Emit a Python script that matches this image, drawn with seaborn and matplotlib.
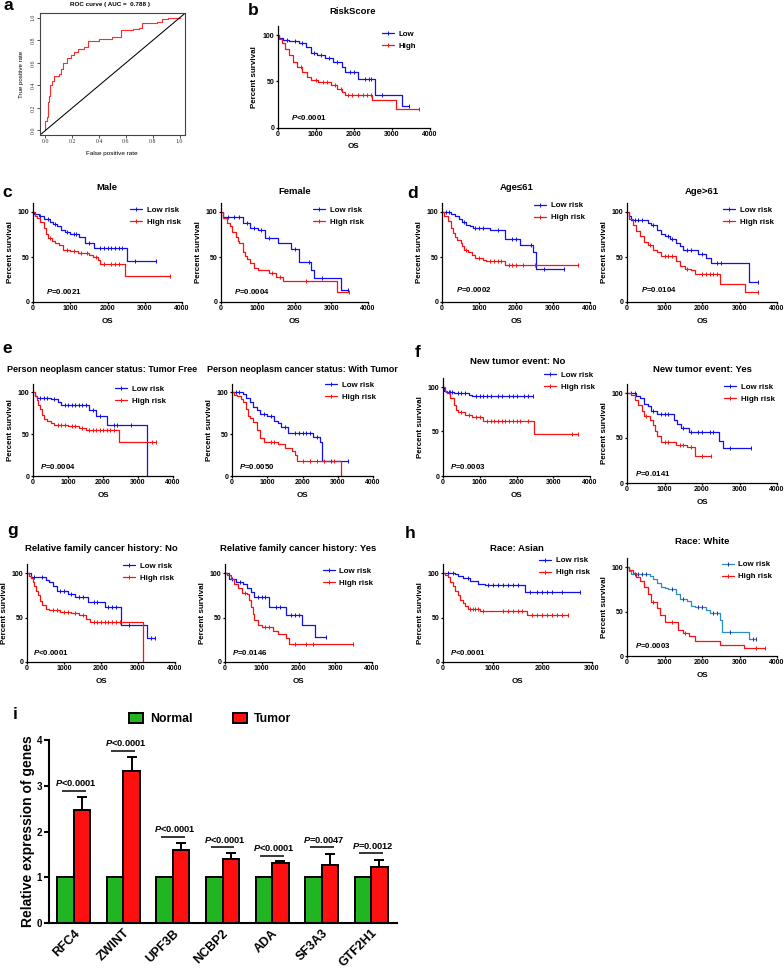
import numpy as np
import pandas as pd
import matplotlib
matplotlib.use("Agg")
import matplotlib.pyplot as plt
import matplotlib.transforms as mtrans
from matplotlib.lines import Line2D
from matplotlib.patches import Patch
import seaborn as sns

# ------------------------------------------------------------------ data
roc_fpr = [0, 0, 0.012, 0.017, 0.025, 0.037, 0.05, 0.067, 0.10, 0.117, 0.135, 0.16, 0.19,
           0.215, 0.24, 0.29, 0.32, 0.40, 0.50, 0.56, 0.565, 0.65, 0.70, 0.72, 0.83, 0.87, 0.91, 1.0]
roc_tpr = [0, 0.08, 0.12, 0.25, 0.31, 0.40, 0.44, 0.48, 0.50, 0.55, 0.60, 0.64, 0.67,
           0.70, 0.72, 0.74, 0.79, 0.81, 0.83, 0.84, 0.89, 0.90, 0.91, 0.95, 0.96, 0.985, 1.0, 1.0]
roc_auc = "0.788"

# b  RiskScore
risk_low_t = [0, 40, 150, 300, 550, 750, 880, 1020, 1240, 1460, 1680, 1770, 2120, 2550, 3270]
risk_low_s = [100, 97, 95, 93.5, 91, 87, 81, 78, 75, 71, 66, 60, 53, 35, 23]
risk_low_end = 3450
risk_low_cens = [250, 450, 650, 950, 1150, 1350, 1550, 1900, 2000, 2300, 2400, 2450, 2750, 3450]
risk_high_t = [0, 30, 100, 200, 300, 400, 500, 630, 760, 880, 1050, 1400, 1550, 1700, 1780, 2480, 3120]
risk_high_s = [100, 96, 91, 85, 78, 71, 66, 60, 55, 51, 49.5, 46, 42, 38, 35.5, 30, 20]
risk_high_end = 3700
risk_high_cens = [600, 1000, 1200, 1300, 1500, 1650, 1850, 1950, 2100, 2250, 2350, 2450, 3700]

# c  Male / Female
male_low_t = [0, 30, 150, 300, 450, 550, 650, 750, 850, 1000, 1240, 1400, 1650, 2530]
male_low_s = [100, 98, 95, 92, 89, 87, 84, 80, 78, 76, 72, 66, 60.5, 45.5]
male_low_end = 3300
male_low_cens = [200, 400, 600, 900, 1100, 1150, 1500, 1800, 1900, 2000, 2100, 2200, 2300, 2400, 2750, 3300]
male_high_t = [0, 50, 100, 200, 300, 350, 400, 500, 600, 700, 800, 1000, 1200, 1500, 1600, 1750, 1800, 2480]
male_high_s = [100, 96, 93, 89, 82, 76, 71, 68, 65, 63, 58, 57, 54, 52, 50, 47, 42.5, 28.5]
male_high_end = 3680
male_high_cens = [450, 900, 1100, 1300, 1450, 1700, 1900, 2100, 2200, 2300, 3680]

female_low_t = [0, 50, 600, 800, 1000, 1200, 1550, 1900, 2120, 2450, 2530, 3270]
female_low_s = [100, 94, 88, 82, 80, 71, 65, 59, 44, 35, 27, 13]
female_low_end = 3450
female_low_cens = [200, 350, 500, 700, 900, 1100, 1300, 2000, 2400, 2750, 3450]
female_high_t = [0, 50, 150, 250, 300, 400, 450, 500, 600, 650, 700, 800, 900, 1000, 1300, 1500, 1700, 3150]
female_high_s = [100, 93, 88, 84, 78, 72, 68, 65, 55, 51, 48, 43, 38, 35, 32, 28, 23, 11]
female_high_end = 3480
female_high_cens = [1400, 1600, 2300, 3480]

# d  Age<=61 / Age>61
young_low_t = [0, 250, 350, 450, 550, 650, 750, 850, 1300, 1700, 2100, 2450, 2530]
young_low_s = [100, 98, 95, 92, 89, 86, 84, 82, 80, 70, 63, 55, 37]
young_low_end = 3300
young_low_cens = [100, 200, 600, 900, 1000, 1100, 1500, 1900, 2000, 2400, 2750, 3300]
young_high_t = [0, 50, 150, 250, 300, 350, 400, 500, 550, 600, 700, 800, 900, 1100, 1200, 1700]
young_high_s = [100, 95, 90, 82, 77, 72, 69, 66, 62, 58, 55, 52, 49, 47, 45, 41.5]
young_high_end = 3680
young_high_cens = [650, 1000, 1300, 1400, 1500, 1600, 1800, 1900, 2000, 2200, 2500, 3680]

old_low_t = [0, 50, 100, 550, 650, 800, 900, 1000, 1150, 1300, 1400, 1500, 1900, 2100, 2250, 3250]
old_low_s = [100, 95, 91, 88, 85, 80, 76, 73, 70, 65, 62, 58, 53, 48.5, 43, 22]
old_low_end = 3480
old_low_cens = [200, 300, 400, 700, 1100, 1200, 1600, 1700, 2000, 2400, 2500, 3480]
old_high_t = [0, 50, 150, 250, 350, 450, 550, 700, 800, 900, 1300, 1400, 1550, 1700, 1800, 2480, 3150]
old_high_s = [100, 92, 85, 79, 73, 67, 63, 58, 55, 51, 46, 40, 37, 35, 31, 20, 11]
old_high_end = 3480
old_high_cens = [600, 1000, 1100, 1200, 1600, 2000, 2100, 2200, 2300, 2400, 3480]

# e  Tumor free / With tumor
free_low_t = [0, 50, 100, 500, 700, 800, 1600, 1800, 2100, 3250]
free_low_s = [100, 95, 93, 92, 88, 84, 78, 71, 60.5, 0]
free_low_end = 3250
free_low_cens = [200, 300, 400, 600, 900, 1000, 1100, 1200, 1300, 1400, 1500, 1700, 1900, 2300, 2400, 2800]
free_high_t = [0, 50, 100, 150, 200, 250, 300, 400, 500, 600, 1000, 1300, 1500, 2450]
free_high_s = [100, 95, 90, 85, 80, 73, 68, 65, 63, 61, 59, 57, 55, 41]
free_high_end = 3500
free_high_cens = [700, 800, 900, 1100, 1200, 1400, 1600, 1700, 1800, 1900, 2000, 2100, 2200, 2300, 3400, 3500]

withtum_low_t = [0, 300, 400, 500, 600, 700, 800, 1000, 1200, 1300, 1400, 1600, 2300, 2500, 2550]
withtum_low_s = [100, 98, 93, 88, 82, 78, 74, 71, 66, 63, 58, 51, 47, 40, 18]
withtum_low_end = 3300
withtum_low_cens = [100, 200, 900, 1100, 1500, 1800, 1900, 2000, 2100, 2200, 2400, 2800, 3300]
withtum_high_t = [0, 50, 150, 250, 300, 400, 450, 500, 600, 700, 800, 900, 1300, 1500, 1700, 1800, 1850, 3100]
withtum_high_s = [100, 97, 95, 92, 88, 80, 72, 69, 64, 55, 45, 40, 38, 33, 30, 25, 18, 0]
withtum_high_end = 3100
withtum_high_cens = [1100, 1200, 2000, 2200, 2400, 2600, 2900]

# f  New tumor event
ntno_low_t = [0, 30, 80, 300, 700, 800]
ntno_low_s = [100, 96, 94, 93, 91, 90]
ntno_low_end = 2450
ntno_low_cens = [150, 200, 250, 400, 500, 600, 900, 1000, 1100, 1200, 1300, 1500, 1600, 1800,
                 1900, 2000, 2200, 2300, 2450]
ntno_high_t = [0, 50, 100, 200, 300, 350, 400, 600, 800, 1100, 2480]
ntno_high_s = [100, 96, 93, 88, 80, 74, 71.5, 68, 66, 62, 47]
ntno_high_end = 3680
ntno_high_cens = [500, 700, 900, 1000, 1200, 1300, 1400, 1500, 1600, 1700, 1800, 1900, 2000,
                  2100, 2300, 3500, 3680]

ntyes_low_t = [0, 250, 350, 450, 550, 650, 800, 1250, 1330, 1450, 1650, 2450, 2550]
ntyes_low_s = [100, 97, 94, 88, 85, 80, 77, 70, 66, 61, 57, 47, 38.5]
ntyes_low_end = 3300
ntyes_low_cens = [100, 200, 700, 900, 1000, 1100, 1500, 1700, 1900, 2000, 2200, 2300, 2750, 3300]
ntyes_high_t = [0, 100, 200, 300, 400, 450, 600, 700, 750, 800, 900, 1300, 1600, 1800]
ntyes_high_s = [100, 98, 92, 87, 80, 74, 70, 64, 58, 52, 46, 42, 40, 30]
ntyes_high_end = 2230
ntyes_high_cens = [500, 1000, 1100, 1400, 1500, 1700, 2000, 2230]

# g  Family history
famno_low_t = [0, 100, 300, 500, 600, 700, 800, 1100, 1300, 1650, 2100, 2530, 3250]
famno_low_s = [100, 96, 95, 92, 90, 85, 80, 76, 73.5, 67, 62, 42, 27]
famno_low_end = 3450
famno_low_cens = [200, 400, 900, 1000, 1200, 1400, 1500, 1800, 1900, 2200, 2300, 2400, 2750, 3350, 3450]
famno_high_t = [0, 50, 100, 150, 200, 250, 300, 350, 400, 500, 600, 900, 1200, 1400, 1600, 1700, 3130]
famno_high_s = [100, 97, 94, 90, 85, 80, 75, 68, 64, 60, 58.5, 56.5, 55, 53, 48, 45, 0]
famno_high_end = 3130
famno_high_cens = [700, 800, 1000, 1100, 1300, 1500, 1800, 1900, 2000, 2100, 2200, 2300, 2400, 2500]

famyes_low_t = [0, 100, 300, 500, 600, 700, 800, 1200, 1650, 2100, 2450]
famyes_low_s = [100, 93, 90, 88, 83, 79, 73, 62, 53, 42, 28]
famyes_low_end = 2750
famyes_low_cens = [200, 400, 900, 1000, 1100, 1400, 1500, 1800, 1900, 2000, 2750]
famyes_high_t = [0, 50, 150, 250, 350, 450, 600, 650, 700, 750, 800, 900, 1000, 1300, 1450, 1650, 1750]
famyes_high_s = [100, 98, 93, 88, 83, 78, 76, 70, 62, 54, 47, 42, 39, 35, 31, 27, 20]
famyes_high_end = 3480
famyes_high_cens = [550, 1100, 1200, 1900, 2200, 2400, 3480]

# h  Race
asian_low_t = [0, 250, 300, 400, 550, 700, 850, 1650]
asian_low_s = [100, 99, 97, 94, 91, 88, 86, 78.5]
asian_low_end = 2750
asian_low_cens = [100, 200, 500, 900, 1000, 1100, 1200, 1300, 1400, 1500, 1750, 1900, 2000, 2100,
                  2200, 2400, 2750]
asian_high_t = [0, 50, 100, 150, 200, 250, 300, 350, 400, 450, 500, 750, 1700]
asian_high_s = [100, 98, 95, 90, 85, 80, 75.5, 70, 66, 63, 59, 57.5, 53]
asian_high_end = 2520
asian_high_cens = [550, 600, 650, 700, 800, 1200, 1300, 1400, 1500, 1600, 1800, 1900, 2000, 2100,
                   2200, 2300, 2400, 2520]

white_low_t = [0, 50, 100, 600, 700, 800, 900, 1000, 1100, 1300, 1400, 1600, 1700, 1800, 2100,
               2200, 2480, 2530, 3250]
white_low_s = [100, 95, 92.5, 90, 86, 82, 78, 76, 75, 70, 64.5, 62, 56, 55, 52, 48.5, 41, 27.5, 19]
white_low_end = 3450
white_low_cens = [200, 300, 400, 500, 1200, 1500, 1900, 2000, 2300, 2400, 2750, 3350, 3450]
white_high_t = [0, 50, 150, 250, 350, 450, 550, 650, 790, 875, 1010, 1350, 1500, 1650, 1800, 2480, 3130]
white_high_s = [100, 97, 93, 89, 84, 77, 70, 61, 53.5, 46, 38.5, 29, 26, 23, 17, 12.5, 8.5]
white_high_end = 3680
white_high_cens = [700, 1200, 1550, 3450, 3680]

# i  expression
genes = ["RFC4", "ZWINT", "UPF3B", "NCBP2", "ADA", "SF3A3", "GTF2H1"]
normal_expr = [1.0, 1.0, 1.0, 1.0, 1.0, 1.0, 1.0]
tumor_expr = [2.47, 3.33, 1.60, 1.40, 1.31, 1.27, 1.22]
tumor_sem = [0.28, 0.30, 0.15, 0.14, 0.045, 0.24, 0.16]
bar_p_text = ["<0.0001", "<0.0001", "<0.0001", "<0.0001", "<0.0001", "=0.0047", "=0.0012"]
bar_p_height = [2.885, 3.76, 1.886, 1.655, 1.47, 1.655, 1.52]

# ------------------------------------------------------------------ style
sns.set_theme(style="ticks", rc={"axes.edgecolor": "black", "xtick.color": "black",
                                 "ytick.color": "black", "axes.labelcolor": "black",
                                 "text.color": "black"})
plt.rcParams["font.family"] = ["Liberation Sans", "DejaVu Sans"]
plt.rcParams["font.weight"] = "bold"
plt.rcParams["axes.labelweight"] = "bold"
plt.rcParams["mathtext.fontset"] = "custom"
plt.rcParams["mathtext.it"] = "Liberation Sans:italic:bold"
plt.rcParams["mathtext.rm"] = "Liberation Sans:bold"
plt.rcParams["mathtext.bf"] = "Liberation Sans:bold"

W, H = 784, 972
fig = plt.figure(figsize=(W / 100, H / 100), dpi=100)
fig.patch.set_facecolor("white")

BLUE = "#1010f0"
RED = "#ff1010"
TEAL = "#2b8cc2"
GREEN = "#22b522"
LW = 0.9


def fpos(x, y):
    return x / W, 1 - y / H


def letter(ch, x, base):
    fig.text(*fpos(x, base), ch, ha="left", va="baseline", fontsize=12.5, fontweight="bold")


# ------------------------------------------------------------------ a  ROC
ax = fig.add_axes([40 / W, 1 - 135 / H, 145 / W, (135 - 13.3) / H])
sns.lineplot(x=roc_fpr, y=roc_tpr, drawstyle="steps-post", estimator=None, sort=False,
             color="#ff2a2a", linewidth=0.8, ax=ax)
ax.axline((0, 0), (1, 1), color="black", linewidth=0.75)
ax.set_xlim(-0.04, 1.04)
ax.set_ylim(-0.04, 1.04)
ticks = [0, 0.2, 0.4, 0.6, 0.8, 1.0]
ax.set_xticks(ticks)
ax.set_yticks(ticks)
ax.set_xticklabels([f"{v:.1f}" for v in ticks], fontfamily="Liberation Serif", fontweight="normal", fontsize=4.2)
ax.set_yticklabels([f"{v:.1f}" for v in ticks], fontfamily="Liberation Serif", fontweight="normal",
                   fontsize=4.2, rotation=90, va="center")
for sp in ax.spines.values():
    sp.set_linewidth(0.8)
    sp.set_color("#444444")
ax.tick_params(length=2, width=0.6, pad=1.2, colors="#333333")
ax.set_xlabel("")
ax.set_ylabel("")
fig.text(*fpos(110, 4.5), f"ROC curve ( AUC =  {roc_auc} )", ha="center", va="center", fontsize=4.5, fontweight="bold")
fig.text(*fpos(112, 153), "False positive rate", ha="center", va="center", fontsize=4.6, fontweight="normal")
fig.text(*fpos(22, 74), "True positive rate", ha="center", va="center", fontsize=4.4, fontweight="normal", rotation=90)
letter("a", 3, 10.5)

# ------------------------------------------------------------------ KM panels
km_specs = [
    dict(low=(risk_low_t, risk_low_s, risk_low_end, risk_low_cens),
         high=(risk_high_t, risk_high_s, risk_high_end, risk_high_cens),
         box=(277.7, 430, 127.7, 35), xmax=4000, title="RiskScore", tpos=(353, 11), tsize=6.8,
         leg=(382, 33.3, 46.7), labels=("Low", "High"), ppos=(291, 117), p="<0.0001"),
    dict(low=(male_low_t, male_low_s, male_low_end, male_low_cens),
         high=(male_high_t, male_high_s, male_high_end, male_high_cens),
         box=(33, 182, 302, 212), xmax=4000, title="Male", tpos=(107, 187), tsize=6.8,
         leg=(130, 209.3, 222.7), labels=("Low risk", "High risk"), ppos=(46, 291), p="=0.0021"),
    dict(low=(female_low_t, female_low_s, female_low_end, female_low_cens),
         high=(female_high_t, female_high_s, female_high_end, female_high_cens),
         box=(221, 368, 302, 212), xmax=4000, title="Female", tpos=(295, 191), tsize=6.8,
         leg=(313.3, 209.3, 222.7), labels=("Low risk", "High risk"), ppos=(234, 291), p="=0.0004"),
    dict(low=(young_low_t, young_low_s, young_low_end, young_low_cens),
         high=(young_high_t, young_high_s, young_high_end, young_high_cens),
         box=(442, 590, 302, 212), xmax=4000, title="Age\u226461", tpos=(517, 187), tsize=6.8,
         leg=(534.3, 205, 218.3), labels=("Low risk", "High risk"), ppos=(455.7, 290), p="=0.0002"),
    dict(low=(old_low_t, old_low_s, old_low_end, old_low_cens),
         high=(old_high_t, old_high_s, old_high_end, old_high_cens),
         box=(627, 777, 302, 212), xmax=4000, title="Age>61", tpos=(702, 192), tsize=6.8,
         leg=(723.3, 209.3, 222.7), labels=("Low risk", "High risk"), ppos=(640.7, 290), p="=0.0104"),
    dict(low=(free_low_t, free_low_s, free_low_end, free_low_cens),
         high=(free_high_t, free_high_s, free_high_end, free_high_cens),
         box=(33, 173, 476, 392), xmax=4000, title="Person neoplasm cancer status: Tumor Free",
         tpos=(102.5, 370), tsize=6.5,
         leg=(115, 389, 400.7), labels=("Low risk", "High risk"), ppos=(40, 466.7), p="=0.0004"),
    dict(low=(withtum_low_t, withtum_low_s, withtum_low_end, withtum_low_cens),
         high=(withtum_high_t, withtum_high_s, withtum_high_end, withtum_high_cens),
         box=(232, 373, 476, 392), xmax=4000, title="Person neoplasm cancer status: With Tumor",
         tpos=(302.5, 370), tsize=6.5,
         leg=(325, 385, 397.7), labels=("Low risk", "High risk"), ppos=(239, 466.7), p="=0.0050"),
    dict(low=(ntno_low_t, ntno_low_s, ntno_low_end, ntno_low_cens),
         high=(ntno_high_t, ntno_high_s, ntno_high_end, ntno_high_cens),
         box=(443, 590, 476, 387), xmax=4000, title="New tumor event: No", tpos=(517.5, 361.7), tsize=6.8,
         leg=(544, 374, 387.7), labels=("Low risk", "High risk"), ppos=(450, 466), p="=0.0003"),
    dict(low=(ntyes_low_t, ntyes_low_s, ntyes_low_end, ntyes_low_cens),
         high=(ntyes_high_t, ntyes_high_s, ntyes_high_end, ntyes_high_cens),
         box=(627, 777, 483, 393), xmax=4000, title="New tumor event: Yes", tpos=(702, 369), tsize=6.8,
         leg=(724.3, 386.7, 400), labels=("Low risk", "High risk"), ppos=(635, 473.3), p="=0.0141"),
    dict(low=(famno_low_t, famno_low_s, famno_low_end, famno_low_cens),
         high=(famno_high_t, famno_high_s, famno_high_end, famno_high_cens),
         box=(27, 175, 662, 573), xmax=4000, title="Relative family cancer history: No",
         tpos=(101, 548.3), tsize=6.8,
         leg=(123.3, 566, 578.3), labels=("Low risk", "High risk"), ppos=(33.3, 652.3), p="<0.0001"),
    dict(low=(famyes_low_t, famyes_low_s, famyes_low_end, famyes_low_cens),
         high=(famyes_high_t, famyes_high_s, famyes_high_end, famyes_high_cens),
         box=(225, 372, 662, 573), xmax=4000, title="Relative family cancer history: Yes",
         tpos=(298.5, 548.3), tsize=6.8,
         leg=(322.7, 570.7, 583.3), labels=("Low risk", "High risk"), ppos=(232.3, 652.3), p="=0.0146"),
    dict(low=(asian_low_t, asian_low_s, asian_low_end, asian_low_cens),
         high=(asian_high_t, asian_high_s, asian_high_end, asian_high_cens),
         box=(443, 592, 662, 573), xmax=3000, title="Race: Asian", tpos=(516.7, 548.3), tsize=6.8,
         leg=(539.3, 560, 573.3), labels=("Low risk", "High risk"), ppos=(450, 652.3), p="<0.0001"),
    dict(low=(white_low_t, white_low_s, white_low_end, white_low_cens),
         high=(white_high_t, white_high_s, white_high_end, white_high_cens),
         box=(627, 777, 656, 567), xmax=4000, title="Race: White", tpos=(701.7, 541.7), tsize=6.8,
         leg=(721.7, 564, 577.3), labels=("Low risk", "High risk"), ppos=(635, 645.7), p="=0.0003",
         lowcolor=TEAL, lowmark="#1a30b0"),
]


def draw_curve(ax, curve, color, mcolor):
    t, s, end, cens = curve
    t = np.asarray(t, float)
    s = np.asarray(s, float)
    x = np.append(t, end)
    y = np.append(s, s[-1])
    sns.lineplot(x=x, y=y, drawstyle="steps-post", estimator=None, sort=False,
                 color=color, linewidth=LW, ax=ax, clip_on=False)
    c = np.asarray(cens, float)
    idx = np.searchsorted(t, c, side="right") - 1
    ax.plot(c, s[idx], ls="none", marker="|", ms=2.4, mew=0.7, color=mcolor, clip_on=False)


for sp_ in km_specs:
    left, right, y0, y100 = sp_["box"]
    top = y0 - 1.1 * (y0 - y100)
    axw, axh = right - left, y0 - top
    ax = fig.add_axes([left / W, 1 - y0 / H, axw / W, axh / H])
    lc = sp_.get("lowcolor", BLUE)
    lm = sp_.get("lowmark", BLUE)
    draw_curve(ax, sp_["low"], lc, lm)
    draw_curve(ax, sp_["high"], RED, RED)
    ax.set_xlim(0, sp_["xmax"])
    ax.set_ylim(0, 110)
    ax.set_xticks(np.arange(0, sp_["xmax"] + 1, 1000))
    ax.set_yticks([0, 50, 100])
    sns.despine(ax=ax)
    for k in ("left", "bottom"):
        ax.spines[k].set_linewidth(0.9)
    ax.tick_params(length=1.6, width=0.9, pad=0.8, labelsize=5)
    ax.set_xlabel("OS", fontsize=5.8, fontweight="bold")
    ax.set_ylabel("Percent survival", fontsize=5.8, fontweight="bold")
    ax.xaxis.set_label_coords(0.5, -19.3 / axh)
    ax.xaxis.label.set_va("center")
    ax.yaxis.set_label_coords(-22.7 / axw, 0.5)
    ax.yaxis.label.set_va("center")
    # legend
    lx, r1, r2 = sp_["leg"]
    handles = [Line2D([], [], color=lc, lw=LW, marker="|", ms=2.4, mew=0.7, markeredgecolor=lm),
               Line2D([], [], color=RED, lw=LW, marker="|", ms=2.4, mew=0.7, markeredgecolor=RED)]
    ax.legend(handles, sp_["labels"], loc="center left", bbox_to_anchor=fpos(lx, (r1 + r2) / 2),
              bbox_transform=fig.transFigure, frameon=False, prop={"size": 5.7, "weight": "bold"},
              handlelength=1.5, handletextpad=0.6, labelspacing=0.55, borderpad=0, borderaxespad=0)
    fig.text(*fpos(*sp_["tpos"]), sp_["title"], ha="center", va="center",
             fontsize=sp_["tsize"], fontweight="bold")
    fig.text(*fpos(*sp_["ppos"]), r"$P$" + sp_["p"], ha="left", va="center", fontsize=5.7, fontweight="bold")

letter("b", 248, 15)
letter("c", 2, 197)
letter("d", 407, 198)
letter("e", 2, 353)
letter("f", 415, 357)
letter("g", 7, 535)
letter("h", 405, 538)
letter("i", 13, 719)

# ------------------------------------------------------------------ i  bar chart
ax = fig.add_axes([49 / W, 1 - 923 / H, 348 / W, 183 / H])
df = pd.DataFrame({"gene": genes * 2,
                   "group": ["Normal"] * len(genes) + ["Tumor"] * len(genes),
                   "value": normal_expr + tumor_expr})
sns.barplot(data=df, x="gene", y="value", hue="group", order=genes, hue_order=["Normal", "Tumor"],
            palette={"Normal": GREEN, "Tumor": RED}, saturation=1, width=0.667,
            edgecolor="black", linewidth=1.4, errorbar=None, legend=False, ax=ax)
tumor_x = np.array([p.get_x() + p.get_width() / 2 for p in ax.containers[1]])
ax.errorbar(tumor_x, tumor_expr, yerr=[np.zeros(len(genes)), tumor_sem], fmt="none",
            ecolor="black", elinewidth=1.4, capsize=3.5, capthick=1.4, zorder=1)
for i, (h, txt) in enumerate(zip(bar_p_height, bar_p_text)):
    ax.plot([i - 0.24, i + 0.24], [h, h], color="black", lw=1.1, solid_capstyle="butt")
    ax.text(i + 0.04, h + 0.17, r"$P$" + txt, ha="center", va="center", fontsize=6.7, fontweight="bold")
ax.set_xlim(-0.5, 6.52)
ax.set_ylim(0, 4)
ax.set_yticks([0, 1, 2, 3, 4])
sns.despine(ax=ax)
for k in ("left", "bottom"):
    ax.spines[k].set_linewidth(1.5)
ax.tick_params(axis="y", length=3.5, width=1.5, pad=1.5, labelsize=7)
ax.tick_params(axis="x", length=0, pad=6, labelsize=9)
ax.set_xlabel("")
ax.set_ylabel("Relative expression of genes", fontsize=10, fontweight="bold")
ax.yaxis.set_label_coords(-(49 - 28.5) / 348, 0.5)
ax.yaxis.label.set_va("center")
offset = mtrans.ScaledTranslation(4 / 100, 0, fig.dpi_scale_trans)
for lab in ax.get_xticklabels():
    lab.set_rotation(45)
    lab.set_ha("right")
    lab.set_va("center")
    lab.set_rotation_mode("anchor")
    lab.set_fontweight("bold")
    lab.set_transform(lab.get_transform() + offset)
ax.legend([Patch(facecolor=GREEN, edgecolor="black", lw=1.4), Patch(facecolor=RED, edgecolor="black", lw=1.4)],
          ["Normal", "Tumor"], ncol=2, loc="center left", bbox_to_anchor=fpos(129, 719),
          bbox_transform=fig.transFigure, frameon=False, prop={"size": 8.8, "weight": "bold"},
          handlelength=1.15, handleheight=0.85, handletextpad=0.55, columnspacing=3.3,
          borderpad=0, borderaxespad=0)

fig.savefig("out.png", dpi=100, facecolor="white")
